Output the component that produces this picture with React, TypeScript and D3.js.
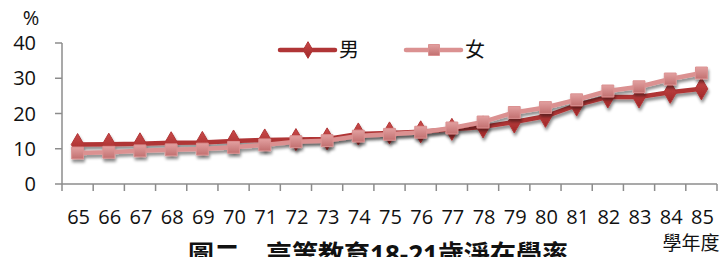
import React, { useEffect, useRef } from 'react';
import * as d3 from 'd3';

const years = ['65','66','67','68','69','70','71','72','73','74','75','76','77','78','79','80','81','82','83','84','85'];
const male = [11.2, 11.3, 11.4, 11.7, 11.8, 12.2, 12.5, 12.6, 12.8, 14.2, 14.5, 14.8, 15.5, 16.2, 17.6, 19.2, 22.4, 24.7, 24.7, 26.0, 27.0];
const female = [8.8, 9.0, 9.4, 9.7, 9.9, 10.4, 11.1, 12.0, 12.3, 13.6, 14.1, 14.7, 15.9, 17.6, 20.3, 21.7, 23.9, 26.4, 27.6, 29.8, 31.5];
const yTicks = [0, 10, 20, 30, 40];

const FONT = "'Open Sans', 'Noto Sans CJK TC', sans-serif";

export default function App() {
  const svgRef = useRef<SVGSVGElement>(null);

  useEffect(() => {
    if (!svgRef.current) return;
    const svg = d3.select(svgRef.current);
    svg.selectAll('*').remove();

    const left = 62, right = 717, top = 43, bottom = 184;

    const x = d3.scaleBand().domain(years).range([left, right]);
    const y = d3.scaleLinear().domain([0, 40]).range([bottom, top]);

    const defs = svg.append('defs');
    const shadow = defs.append('filter').attr('id', 'shadow')
      .attr('x', '-50%').attr('y', '-50%').attr('width', '200%').attr('height', '200%');
    shadow.append('feDropShadow').attr('dx', 1).attr('dy', 3).attr('stdDeviation', 1.8)
      .attr('flood-color', '#000').attr('flood-opacity', 0.45);

    const grad = (id: string, c1: string, c2: string) => {
      const g = defs.append('linearGradient').attr('id', id).attr('x1', 0).attr('y1', 0).attr('x2', 0).attr('y2', 1);
      g.append('stop').attr('offset', '0%').attr('stop-color', c1);
      g.append('stop').attr('offset', '100%').attr('stop-color', c2);
    };
    grad('gMale', '#c94a4a', '#9e2626');
    grad('gFemale', '#e2a0a0', '#c27070');

    // y axis
    svg.append('line').attr('x1', left).attr('x2', left).attr('y1', top).attr('y2', bottom)
      .attr('stroke', '#8c8c8c').attr('stroke-width', 1.5);
    svg.selectAll('.yt').data(yTicks).enter().append('line')
      .attr('x1', left - 7).attr('x2', left).attr('y1', d => y(d)).attr('y2', d => y(d))
      .attr('stroke', '#8c8c8c').attr('stroke-width', 1.5);
    svg.selectAll('.yl').data(yTicks).enter().append('text')
      .attr('x', 36).attr('y', d => y(d)).attr('dy', '0.36em')
      .attr('text-anchor', 'end').attr('font-family', FONT).attr('font-size', 20).attr('fill', '#111')
      .text(d => d);
    svg.append('text').attr('x', 31).attr('y', 25).attr('text-anchor', 'middle')
      .attr('font-family', FONT).attr('font-size', 20).attr('fill', '#111').text('%');

    // x axis
    svg.append('line').attr('x1', left).attr('x2', right).attr('y1', bottom).attr('y2', bottom)
      .attr('stroke', '#8c8c8c').attr('stroke-width', 1.5);
    const bounds = years.map(d => x(d)!).concat([right]);
    svg.selectAll('.xt').data(bounds).enter().append('line')
      .attr('x1', d => d).attr('x2', d => d).attr('y1', bottom).attr('y2', bottom + 7)
      .attr('stroke', '#8c8c8c').attr('stroke-width', 1.5);
    svg.selectAll('.xl').data(years).enter().append('text')
      .attr('x', d => x(d)! + x.bandwidth() / 2 + 1).attr('y', 224)
      .attr('text-anchor', 'middle').attr('font-family', FONT).attr('font-size', 20).attr('fill', '#111')
      .text(d => d);
    svg.append('text').attr('x', 691).attr('y', 250).attr('text-anchor', 'middle')
      .attr('font-family', FONT).attr('font-size', 19).attr('fill', '#111').text('學年度');
    svg.append('text').attr('x', 378).attr('y', 264).attr('text-anchor', 'middle')
      .attr('font-family', FONT).attr('font-size', 26).attr('font-weight', 'bold').attr('fill', '#111')
      .text('圖二　高等教育18-21歲淨在學率');

    const line = d3.line<number>()
      .x((_, i) => x(years[i])! + x.bandwidth() / 2)
      .y(d => y(d));

    const diamond = d3.symbol().type(d3.symbolDiamond).size(140);
    const square = d3.symbol().type(d3.symbolSquare).size(140);

    const series = [
      { key: '男', data: male, color: '#b03536', fill: 'url(#gMale)', sym: diamond },
      { key: '女', data: female, color: '#db9191', fill: 'url(#gFemale)', sym: square },
    ];

    series.forEach(s => {
      const g = svg.append('g').attr('filter', 'url(#shadow)');
      g.append('path').datum(s.data).attr('d', line).attr('fill', 'none')
        .attr('stroke', s.color).attr('stroke-width', 4.5).attr('stroke-linejoin', 'round');
      g.selectAll('path.m').data(s.data).enter().append('path').attr('class', 'm')
        .attr('transform', (d, i) => `translate(${x(years[i])! + x.bandwidth() / 2},${y(d)})`)
        .attr('d', s.sym()!).attr('fill', s.fill)
        .attr('stroke', s.color).attr('stroke-width', 1);
    });

    // legend
    const legend = [
      { ...series[0], x0: 280 },
      { ...series[1], x0: 406 },
    ];
    legend.forEach(l => {
      svg.append('line').attr('x1', l.x0).attr('x2', l.x0 + 55).attr('y1', 50).attr('y2', 50)
        .attr('stroke', l.color).attr('stroke-width', 4.5).attr('stroke-linecap', 'round');
      svg.append('path').attr('transform', `translate(${l.x0 + 28},50)`)
        .attr('d', (l.key === '男' ? d3.symbol().type(d3.symbolDiamond).size(80) : d3.symbol().type(d3.symbolSquare).size(120))()!)
        .attr('fill', l.fill).attr('stroke', l.color);
      svg.append('text').attr('x', l.x0 + 59).attr('y', 50).attr('dy', '0.36em')
        .attr('font-family', FONT).attr('font-size', 20).attr('fill', '#111').text(l.key);
    });
  }, []);

  return (
    <svg ref={svgRef} width={726} height={257}
      style={{ position: 'absolute', left: 0, top: 0, background: '#fff' }} />
  );
}
